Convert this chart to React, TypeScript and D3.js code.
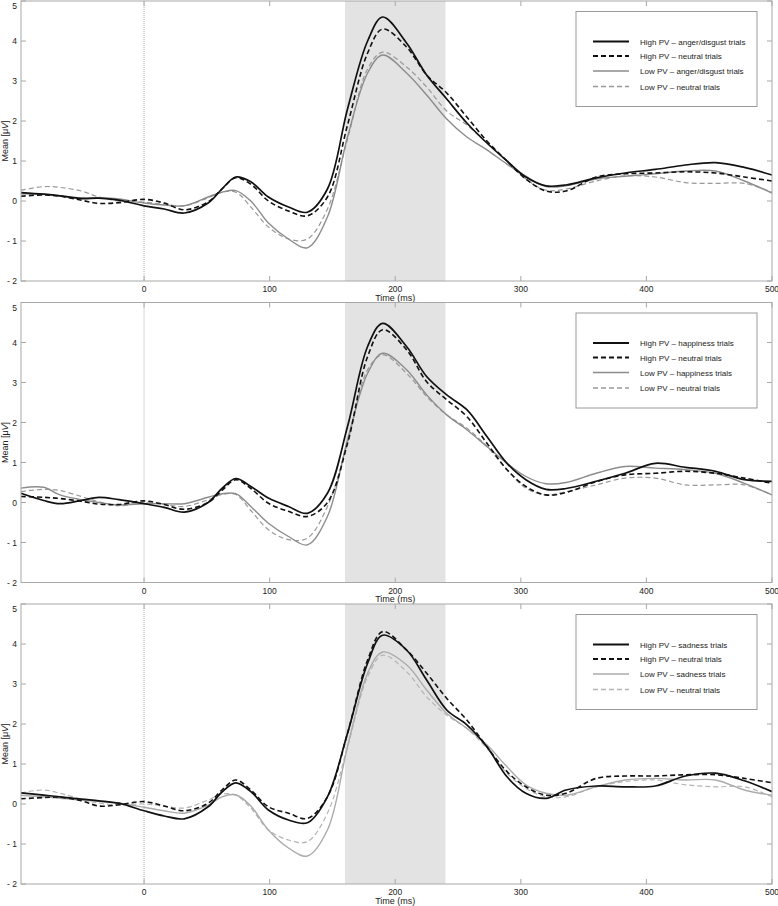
import React from 'react';
import * as d3 from 'd3';

const W = 778;
const H = 906;
const margin = { left: 21, right: 6 };
const panelTops = [1, 302.5, 604];
const panelHeight = 280;

// sample times (ms) shared by every waveform
const times = [-98, -80, -67, -50, -36, -20, 0, 16, 32, 51, 62, 73, 85, 99, 115, 130, 146, 162, 178, 190, 209, 225, 241, 257, 273, 289, 304, 320, 336, 360, 383, 407, 431, 455, 478, 500];

// anger/disgust block
const angerHigh = [0.21, 0.17, 0.13, 0.06, 0.07, 0.02, -0.12, -0.2, -0.3, -0.05, 0.3, 0.6, 0.48, 0.1, -0.15, -0.28, 0.3, 2.3, 4.0, 4.6, 3.95, 3.15, 2.55, 1.95, 1.45, 1.0, 0.6, 0.38, 0.4, 0.58, 0.7, 0.79, 0.9, 0.96, 0.84, 0.65];
const angerHighNeutral = [0.12, 0.15, 0.12, 0.02, -0.06, -0.04, 0.04, -0.05, -0.22, -0.02, 0.3, 0.58, 0.42, 0.0, -0.25, -0.37, 0.1, 1.9, 3.7, 4.3, 3.85, 3.15, 2.7, 2.1, 1.5, 1.0, 0.55, 0.25, 0.25, 0.6, 0.68, 0.7, 0.73, 0.7, 0.6, 0.5];
const angerLow = [0.18, 0.17, 0.13, 0.08, 0.08, 0.05, -0.05, -0.1, -0.12, 0.1, 0.22, 0.26, 0.0, -0.55, -0.95, -1.17, -0.4, 1.6, 3.2, 3.65, 3.2, 2.65, 2.05, 1.6, 1.28, 0.92, 0.62, 0.36, 0.38, 0.55, 0.62, 0.68, 0.75, 0.75, 0.5, 0.2];
const angerLowNeutral = [0.27, 0.36, 0.34, 0.25, 0.1, 0.0, -0.03, -0.08, -0.12, 0.08, 0.22, 0.22, -0.15, -0.65, -0.95, -0.95, -0.2, 1.55, 3.3, 3.72, 3.35, 2.85, 2.25, 1.9, 1.45, 1.0, 0.55, 0.27, 0.3, 0.5, 0.63, 0.6, 0.46, 0.44, 0.44, 0.22];

// happiness block
const happyHigh = [0.23, 0.05, -0.03, 0.05, 0.13, 0.07, -0.03, -0.12, -0.24, 0.0, 0.35, 0.6, 0.4, 0.11, -0.1, -0.27, 0.23, 1.9, 3.9, 4.48, 3.9, 3.15, 2.69, 2.32, 1.65, 0.98, 0.57, 0.33, 0.35, 0.53, 0.73, 0.98, 0.88, 0.78, 0.57, 0.53];
const happyHighNeutral = [0.15, 0.13, 0.1, 0.03, -0.04, -0.05, 0.04, -0.05, -0.17, 0.0, 0.3, 0.57, 0.35, -0.02, -0.22, -0.35, 0.0, 1.48, 3.65, 4.32, 3.82, 3.02, 2.57, 2.15, 1.48, 0.82, 0.4, 0.19, 0.25, 0.52, 0.69, 0.73, 0.78, 0.73, 0.61, 0.48];
const happyLow = [0.36, 0.38, 0.19, 0.07, 0.0, -0.06, -0.03, -0.03, -0.03, 0.13, 0.22, 0.22, -0.1, -0.52, -0.85, -1.06, -0.35, 1.57, 3.23, 3.73, 3.32, 2.69, 2.19, 1.82, 1.4, 0.98, 0.65, 0.47, 0.5, 0.73, 0.9, 0.86, 0.82, 0.73, 0.48, 0.19];
const happyLowNeutral = [0.27, 0.33, 0.3, 0.15, 0.02, -0.08, 0.0, -0.05, -0.1, 0.07, 0.2, 0.2, -0.2, -0.68, -0.93, -0.89, -0.1, 1.48, 3.32, 3.69, 3.23, 2.65, 2.19, 1.86, 1.4, 0.82, 0.36, 0.19, 0.27, 0.44, 0.61, 0.61, 0.44, 0.44, 0.44, 0.19];

// sadness block
const sadHigh = [0.28, 0.22, 0.18, 0.12, 0.08, 0.02, -0.17, -0.3, -0.37, -0.07, 0.3, 0.53, 0.31, -0.15, -0.4, -0.47, 0.18, 1.77, 3.52, 4.22, 3.85, 3.1, 2.35, 1.98, 1.43, 0.68, 0.27, 0.14, 0.35, 0.45, 0.43, 0.45, 0.7, 0.77, 0.58, 0.31];
const sadHighNeutral = [0.13, 0.16, 0.17, 0.08, -0.05, -0.02, 0.06, -0.05, -0.17, 0.02, 0.35, 0.6, 0.35, -0.07, -0.23, -0.36, 0.18, 1.77, 3.6, 4.31, 3.85, 3.27, 2.64, 2.1, 1.43, 0.81, 0.43, 0.22, 0.27, 0.64, 0.7, 0.7, 0.73, 0.73, 0.64, 0.53];
const sadLow = [0.22, 0.18, 0.14, 0.1, 0.06, 0.02, -0.08, -0.17, -0.23, -0.03, 0.18, 0.23, -0.05, -0.65, -1.1, -1.3, -0.65, 1.43, 3.27, 3.8, 3.48, 2.85, 2.27, 1.89, 1.48, 0.93, 0.48, 0.27, 0.22, 0.43, 0.6, 0.64, 0.6, 0.6, 0.35, 0.22];
const sadLowNeutral = [0.28, 0.35, 0.27, 0.12, 0.02, -0.02, 0.0, -0.05, -0.1, 0.1, 0.25, 0.22, -0.1, -0.65, -0.9, -0.94, -0.23, 1.43, 3.18, 3.72, 3.31, 2.68, 2.22, 1.89, 1.39, 0.77, 0.39, 0.18, 0.18, 0.43, 0.56, 0.6, 0.48, 0.43, 0.43, 0.18];

const emotions = ['anger/disgust', 'happiness', 'sadness'];
const xTicks = [0, 100, 200, 300, 400, 500];
const yTicks = [-2, -1, 0, 1, 2, 3, 4, 5];
const windowRange = [160, 240];

const panels = [
  { emotion: emotions[0], values: [angerHigh, angerHighNeutral, angerLow, angerLowNeutral], lowColor: '#8c8c8c' },
  { emotion: emotions[1], values: [happyHigh, happyHighNeutral, happyLow, happyLowNeutral], lowColor: '#8c8c8c' },
  { emotion: emotions[2], values: [sadHigh, sadHighNeutral, sadLow, sadLowNeutral], lowColor: '#ababab' },
];

const font = "'Liberation Sans', Arial, sans-serif";
const frameColor = '#a8a8a8';

function styleFor(i: number, lowColor: string) {
  if (i === 0) return { stroke: '#111', width: 1.7, dash: undefined };
  if (i === 1) return { stroke: '#111', width: 1.6, dash: '5,3' };
  if (i === 2) return { stroke: lowColor, width: 1.4, dash: undefined };
  return { stroke: lowColor === '#8c8c8c' ? '#999' : '#b4b4b4', width: 1.2, dash: '5,3' };
}

function Panel({ top, panel }: { top: number; panel: typeof panels[0] }) {
  const x = d3.scaleLinear().domain([-98, 500]).range([margin.left, W - margin.right]);
  const y = d3.scaleLinear().domain([-2, 5]).range([top + panelHeight, top]);
  const line = d3.line<number>()
    .x((_, i) => x(times[i]))
    .y(d => y(d))
    .curve(d3.curveCatmullRom.alpha(0.5));
  const [x0, x1] = x.range();
  const labels = [
    `High PV – ${panel.emotion} trials`,
    'High PV – neutral trials',
    `Low PV – ${panel.emotion} trials`,
    'Low PV – neutral trials',
  ];
  const legendX = x1 - 196;
  const rowY = [40.5, 55, 70, 85.5];

  return (
    <g>
      <rect x={x0} y={top} width={x1 - x0} height={panelHeight} fill="#fff" />
      <rect x={x(windowRange[0])} y={top} width={x(windowRange[1]) - x(windowRange[0])} height={panelHeight} fill="#e3e3e3" />
      <line x1={x(0)} x2={x(0)} y1={top} y2={top + panelHeight} stroke="#9a9a9a" strokeWidth={0.8} strokeDasharray="1,1" />
      {/* frame ticks on all four sides */}
      {xTicks.map(t => (
        <g key={'xt' + t}>
          <line x1={x(t)} x2={x(t)} y1={top + panelHeight} y2={top + panelHeight - 5} stroke={frameColor} />
          <line x1={x(t)} x2={x(t)} y1={top} y2={top + 5} stroke={frameColor} />
          <text x={x(t)} y={top + panelHeight + 11} textAnchor="middle" fontSize={8.5} fontFamily={font} fill="#222">{t}</text>
        </g>
      ))}
      {yTicks.map(v => (
        <g key={'yt' + v}>
          <line x1={x0} x2={x0 + 5} y1={y(v)} y2={y(v)} stroke={frameColor} />
          <line x1={x1} x2={x1 - 5} y1={y(v)} y2={y(v)} stroke={frameColor} />
          <text x={x0 - 4} y={Math.max(y(v) + 3, top + 8)} textAnchor="end" fontSize={8.5} fontFamily={font} fill="#222">{v < 0 ? `- ${-v}` : `${v}`}</text>
        </g>
      ))}
      {panel.values.map((vals, i) => {
        const s = styleFor(i, panel.lowColor);
        return <path key={i} d={line(vals) || ''} fill="none" stroke={s.stroke} strokeWidth={s.width} strokeDasharray={s.dash} />;
      }).reverse()}
      <rect x={x0} y={top} width={x1 - x0} height={panelHeight} fill="none" stroke={frameColor} strokeWidth={1} />
      <text x={x(200)} y={top + panelHeight + 19.5} textAnchor="middle" fontSize={9} fontFamily={font} fill="#222">Time (ms)</text>
      <text transform={`translate(${8},${y(1.5)}) rotate(-90)`} textAnchor="middle" fontSize={9} fontFamily={font} fill="#222">
        Mean [μ<tspan fontStyle="italic">V</tspan>]
      </text>
      <g>
        <rect x={legendX} y={top + 10.5} width={181} height={95} fill="#fff" stroke="#9a9a9a" strokeWidth={1} />
        {labels.map((lab, i) => {
          const s = styleFor(i, panel.lowColor);
          return (
            <g key={lab}>
              <line x1={legendX + 17} x2={legendX + 53} y1={top + rowY[i]} y2={top + rowY[i]} stroke={s.stroke} strokeWidth={s.width + 0.2} strokeDasharray={s.dash} />
              <text x={legendX + 64} y={top + rowY[i] + 3} fontSize={8} fontFamily={font} fill="#222">{lab}</text>
            </g>
          );
        })}
      </g>
    </g>
  );
}

export default function App() {
  return (
    <svg width={W} height={H} style={{ position: 'absolute', left: 0, top: 0, background: '#fff' }}>
      <rect width={W} height={H} fill="#fff" />
      {panels.map((p, i) => (
        <Panel key={p.emotion} top={panelTops[i]} panel={p} />
      ))}
    </svg>
  );
}
